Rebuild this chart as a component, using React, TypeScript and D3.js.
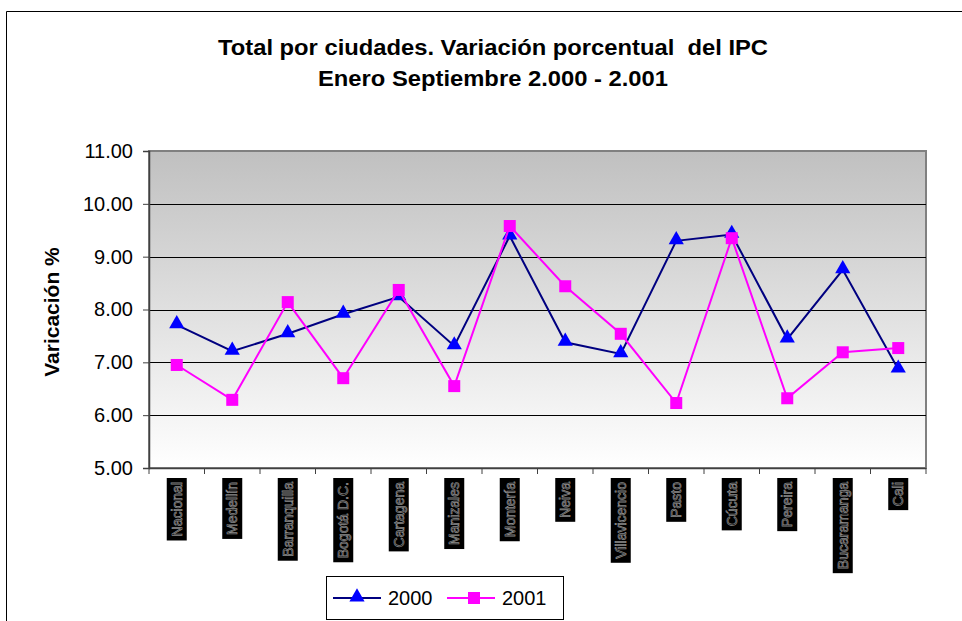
import React, { useEffect, useRef } from "react";
import * as d3 from "d3";

const cities = [
  "Nacional", "Medellín", "Barranquilla", "Bogotá D.C.", "Cartagena", "Manizales",
  "Montería", "Neiva", "Villavicencio", "Pasto", "Cúcuta", "Pereira", "Bucaramanga", "Cali",
];
const values2000 = [7.71, 7.21, 7.54, 7.91, 8.24, 7.31, 9.39, 7.38, 7.16, 9.30, 9.42, 7.44, 8.75, 6.87];
const values2001 = [6.95, 6.29, 8.14, 6.70, 8.37, 6.55, 9.58, 8.44, 7.54, 6.23, 9.35, 6.32, 7.19, 7.27];
const yTicks = [5, 6, 7, 8, 9, 10, 11];
const seriesNames = ["2000", "2001"];
const titleLines = ["Total por ciudades. Variación porcentual  del IPC", "Enero Septiembre 2.000 - 2.001"];
const yTitle = "Varicación %";

const W = 962, H = 621;
const plot = { left: 149, right: 926, top: 151, bottom: 468 };

export default function App() {
  const ref = useRef<SVGSVGElement>(null);
  useEffect(() => {
    const svg = d3.select(ref.current);
    svg.selectAll("*").remove();
    const font = "Arial, 'Liberation Sans', sans-serif";

    // outer frame
    svg.append("rect").attr("width", W).attr("height", H).attr("fill", "#fff");
    svg.append("path").attr("d", `M6.5,${H} V11.5 H${W}`).attr("fill", "none").attr("stroke", "#000").attr("stroke-width", 1);

    // title
    const titleWidths = [550, 350];
    titleLines.forEach((t, i) => {
      svg.append("text").attr("x", 493).attr("y", 55 + i * 31).attr("text-anchor", "middle")
        .attr("font-family", font).attr("font-weight", "bold").attr("font-size", 22)
        .attr("textLength", titleWidths[i]).attr("lengthAdjust", "spacingAndGlyphs")
        .attr("xml:space", "preserve")
        .text(t);
    });

    const x = d3.scaleBand<string>().domain(cities).range([plot.left, plot.right]);
    const y = d3.scaleLinear().domain([5, 11]).range([plot.bottom, plot.top]);

    const defs = svg.append("defs");
    const grad = defs.append("linearGradient").attr("id", "bg").attr("x1", 0).attr("y1", 0).attr("x2", 0).attr("y2", 1);
    grad.append("stop").attr("offset", "0%").attr("stop-color", "#c0c0c0");
    grad.append("stop").attr("offset", "100%").attr("stop-color", "#ffffff");

    svg.append("rect").attr("x", plot.left).attr("y", plot.top)
      .attr("width", plot.right - plot.left).attr("height", plot.bottom - plot.top)
      .attr("fill", "url(#bg)").attr("stroke", "#808080").attr("stroke-width", 2);

    // gridlines
    svg.append("g").selectAll("line").data(yTicks.filter(v => v !== 5 && v !== 11)).join("line")
      .attr("x1", plot.left).attr("x2", plot.right)
      .attr("y1", d => Math.round(y(d)) + 0.5).attr("y2", d => Math.round(y(d)) + 0.5)
      .attr("stroke", "#000").attr("stroke-width", 1);

    // y axis
    const yAxis = svg.append("g").attr("transform", `translate(${plot.left},0)`)
      .call(d3.axisLeft(y).tickValues(yTicks).tickFormat(d3.format(".2f")).tickSize(6).tickPadding(10));
    yAxis.select(".domain").attr("stroke", "#404040").attr("stroke-width", 1.5);
    yAxis.selectAll("line").attr("stroke", "#404040");
    yAxis.selectAll("text").attr("font-family", font).attr("font-size", 20).attr("fill", "#000");

    // x axis
    const xAxis = svg.append("g").attr("transform", `translate(0,${plot.bottom})`);
    xAxis.append("line").attr("x1", plot.left).attr("x2", plot.right).attr("y1", 0.5).attr("y2", 0.5).attr("stroke", "#404040").attr("stroke-width", 1.5);
    xAxis.selectAll("line.tick").data(d3.range(cities.length + 1)).join("line").attr("class", "tick")
      .attr("x1", i => plot.left + i * x.step()).attr("x2", i => plot.left + i * x.step())
      .attr("y1", 0).attr("y2", 6).attr("stroke", "#404040");

    // category labels (black boxes with outlined text)
    cities.forEach((c) => {
      const cx = (x(c) as number) + x.bandwidth() / 2;
      const g = svg.append("g");
      const box = g.append("rect").attr("fill", "#000");
      const t = g.append("text").attr("transform", `translate(${cx + 5},${plot.bottom + 14}) rotate(-90)`)
        .attr("text-anchor", "end").attr("font-family", font).attr("font-size", 14)
        .attr("fill", "#000").attr("stroke", "#8a8a8a").attr("stroke-width", 0.7)
        .text(c);
      const len = (t.node() as SVGTextElement).getComputedTextLength();
      box.attr("x", cx - 10).attr("y", plot.bottom + 10).attr("width", 20).attr("height", len + 8);
    });

    // y title
    svg.append("text").attr("transform", `translate(59,312) rotate(-90)`).attr("text-anchor", "middle")
      .attr("font-family", font).attr("font-weight", "bold").attr("font-size", 21).text(yTitle);

    const cx = (c: string) => (x(c) as number) + x.bandwidth() / 2;
    const line = d3.line<number>().x((_, i) => cx(cities[i])).y(d => y(d));

    const tri = d3.symbol().type(d3.symbolTriangle).size(100);

    // 2000
    svg.append("path").datum(values2000).attr("d", line).attr("fill", "none").attr("stroke", "#000080").attr("stroke-width", 2);
    svg.append("g").selectAll("path").data(values2000).join("path")
      .attr("d", tri).attr("transform", (d, i) => `translate(${cx(cities[i])},${y(d) - 1})`).attr("fill", "#0000ff");

    // 2001
    svg.append("path").datum(values2001).attr("d", line).attr("fill", "none").attr("stroke", "#ff00ff").attr("stroke-width", 2);
    svg.append("g").selectAll("rect").data(values2001).join("rect")
      .attr("x", (d, i) => cx(cities[i]) - 6).attr("y", d => y(d) - 6).attr("width", 12).attr("height", 12).attr("fill", "#ff00ff");

    // legend
    const lg = svg.append("g");
    lg.append("rect").attr("x", 326.5).attr("y", 576.5).attr("width", 237).attr("height", 43).attr("fill", "#fff").attr("stroke", "#000");
    const items = [
      { name: seriesNames[0], color: "#000080", mark: "#0000ff", x0: 333 },
      { name: seriesNames[1], color: "#ff00ff", mark: "#ff00ff", x0: 447 },
    ];
    items.forEach((it, i) => {
      lg.append("line").attr("x1", it.x0).attr("x2", it.x0 + 48).attr("y1", 598).attr("y2", 598).attr("stroke", it.color).attr("stroke-width", 2);
      if (i === 0) lg.append("path").attr("d", tri).attr("transform", `translate(${it.x0 + 24},597)`).attr("fill", it.mark);
      else lg.append("rect").attr("x", it.x0 + 21).attr("y", 592).attr("width", 12).attr("height", 12).attr("fill", it.mark);
      lg.append("text").attr("x", it.x0 + 55).attr("y", 605).attr("font-family", font).attr("font-size", 20).text(it.name);
    });
  }, []);
  return <svg ref={ref} width={W} height={H} style={{ position: "absolute", left: 0, top: 0 }} />;
}
